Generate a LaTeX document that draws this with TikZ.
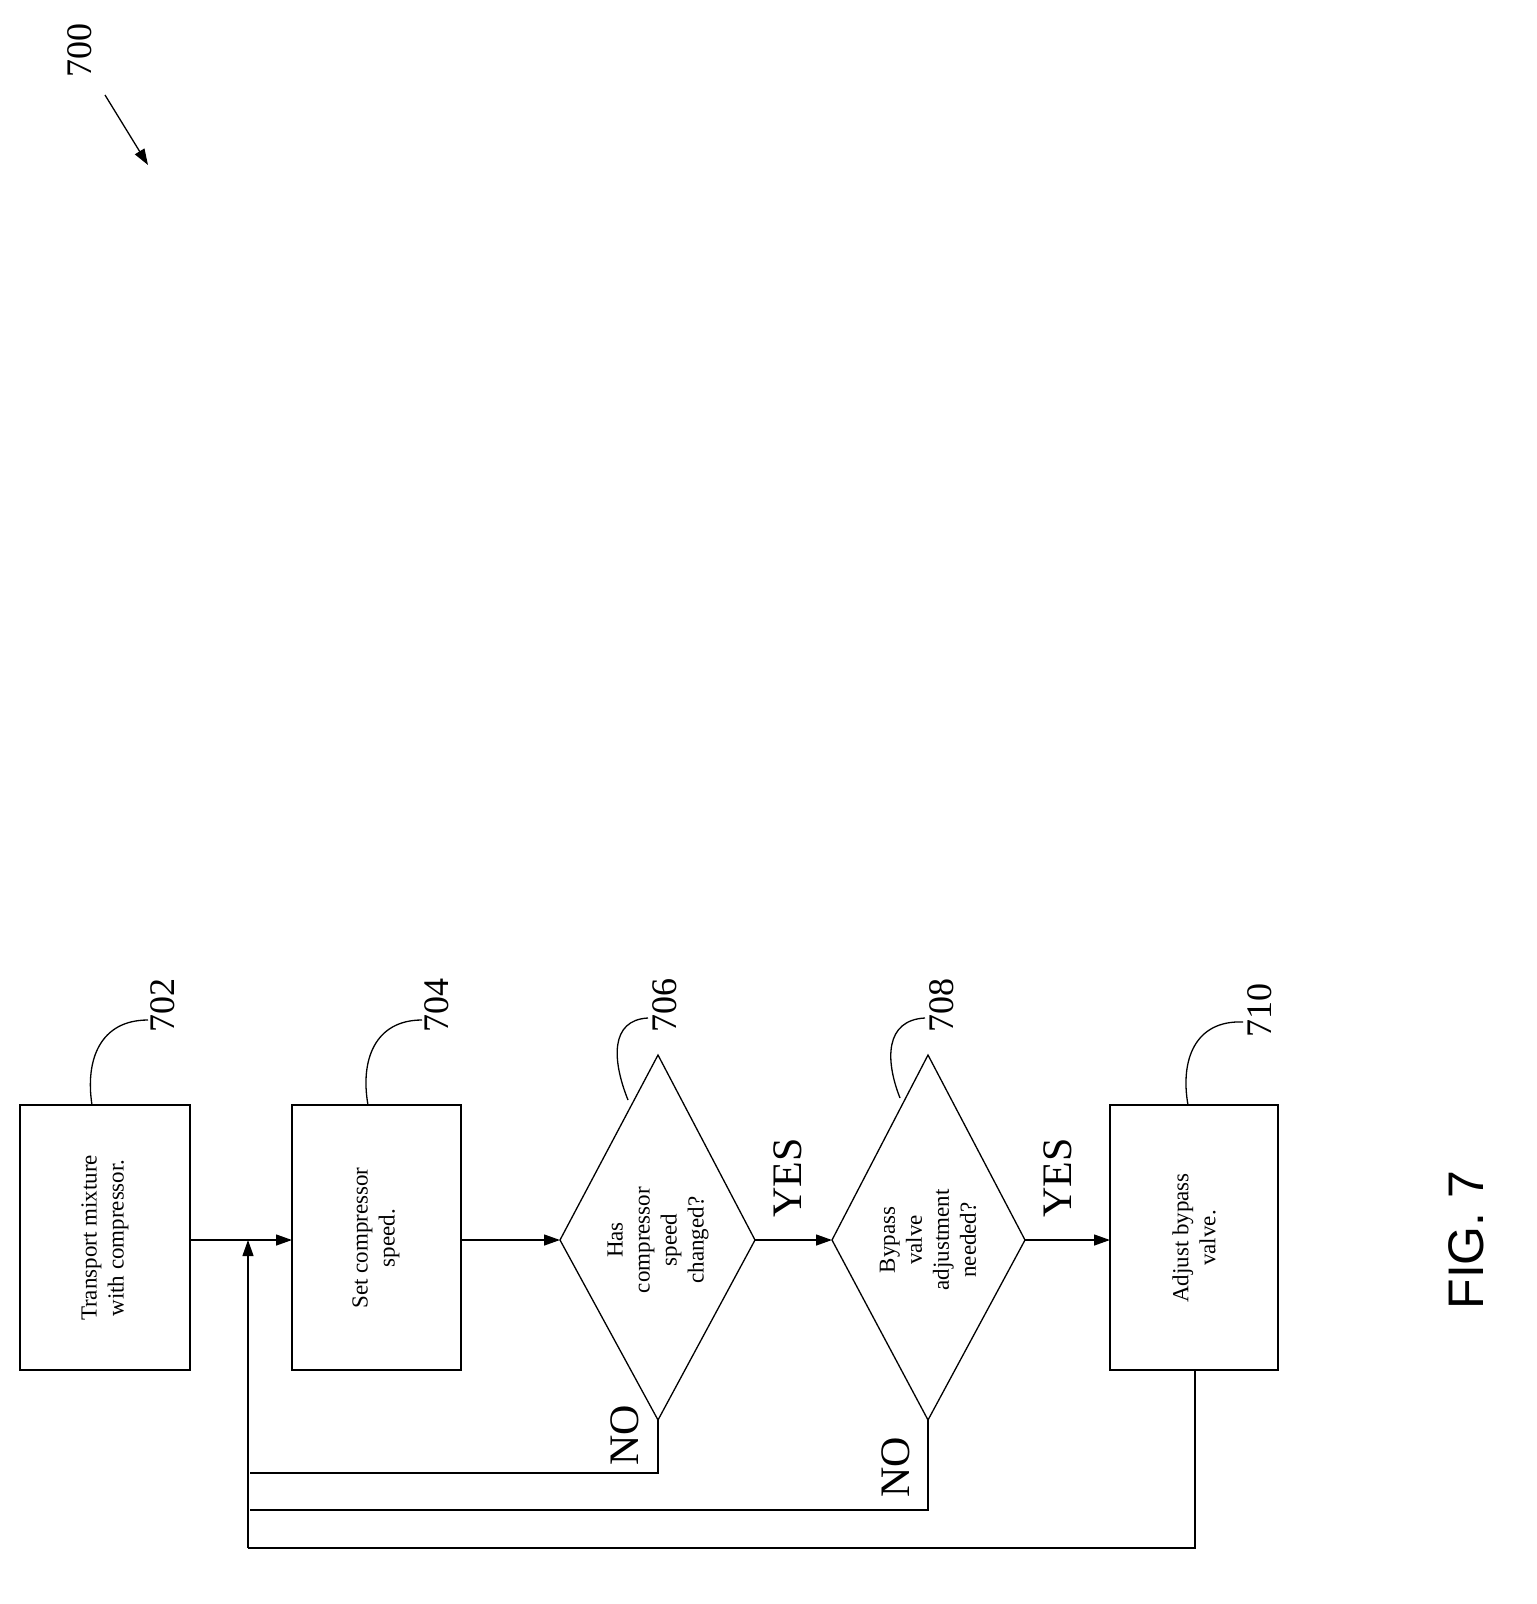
\documentclass[tikz,border=0pt]{standalone}
\usepackage{fontspec}
\setmainfont{Liberation Serif}
\setsansfont{Liberation Sans}
\usetikzlibrary{arrows.meta}
\begin{document}
\begin{tikzpicture}[x=1pt,y=-1pt,
  ln/.style={line width=1.3pt},
  arr/.style={ln,-{Triangle[length=16pt,width=11pt]}},
  txt/.style={rotate=90,align=center,font=\fontsize{23}{27}\selectfont},
  ref/.style={rotate=90,font=\fontsize{36}{40}\selectfont},
  yn/.style={rotate=90,font=\fontsize{42}{46}\selectfont}]
\useasboundingbox (0,0) rectangle (1537,1604);
\draw[ln] (20,1105) rectangle (190,1370);
\node[txt] (t702) at (105,1238) {Transport mixture\\with compressor.};
\draw[ln] (292,1105) rectangle (461,1370);
\node[txt] (t704) at (376,1238) {Set compressor\\speed.};
\draw[ln] (560,1240) -- (658,1055) -- (755,1240) -- (658,1420) -- cycle;
\node[txt] (t706) at (658,1240) {Has\\compressor\\speed\\changed?};
\draw[ln] (832,1240) -- (928,1055) -- (1025,1240) -- (928,1420) -- cycle;
\node[txt] (t708) at (928,1240) {Bypass\\valve\\adjustment\\needed?};
\draw[ln] (1110,1105) rectangle (1278,1370);
\node[txt] (t710) at (1194,1238) {Adjust bypass\\valve.};
\coordinate (a) at (190,1240); \coordinate (b) at (292,1240);
\draw[arr] (a) -- (b);
\draw[arr] (461,1240) -- (560,1240);
\draw[arr] (755,1240) -- (832,1240);
\draw[arr] (1025,1240) -- (1110,1240);
\node[yn] (y1) at (788,1178) {YES};
\node[yn] (y2) at (1058,1178) {YES};
\node[yn] (n1) at (625,1435) {NO};
\node[yn] (n2) at (896,1467) {NO};
\draw[ln] (658,1420) -- (658,1473) -- (250,1473);
\draw[ln] (928,1420) -- (928,1510) -- (250,1510);
\draw[ln] (1195,1370) -- (1195,1548) -- (248,1548);
\draw[arr] (248,1548) -- (248,1240);
% reference labels
\node[ref] at (163,1005) {702};
\draw[ln] (92,1105) .. controls (85,1060) and (100,1020) .. (148,1020);
\node[ref] at (437,1005) {704};
\draw[ln] (368,1105) .. controls (360,1060) and (375,1020) .. (422,1020);
\node[ref] at (665,1005) {706};
\draw[ln] (628,1100) .. controls (612,1060) and (610,1020) .. (648,1018);
\node[ref] at (942,1005) {708};
\draw[ln] (900,1098) .. controls (885,1060) and (885,1020) .. (925,1018);
\node[ref] at (1260,1010) {710};
\draw[ln] (1188,1105) .. controls (1180,1060) and (1195,1020) .. (1243,1022);
\node[ref] at (80,50) {700};
\draw[arr] (105,95) -- (148,165);
\node[rotate=90,font=\sffamily\fontsize{50}{56}\selectfont] at (1466,1240) {FIG. 7};
\end{tikzpicture}
\end{document}
